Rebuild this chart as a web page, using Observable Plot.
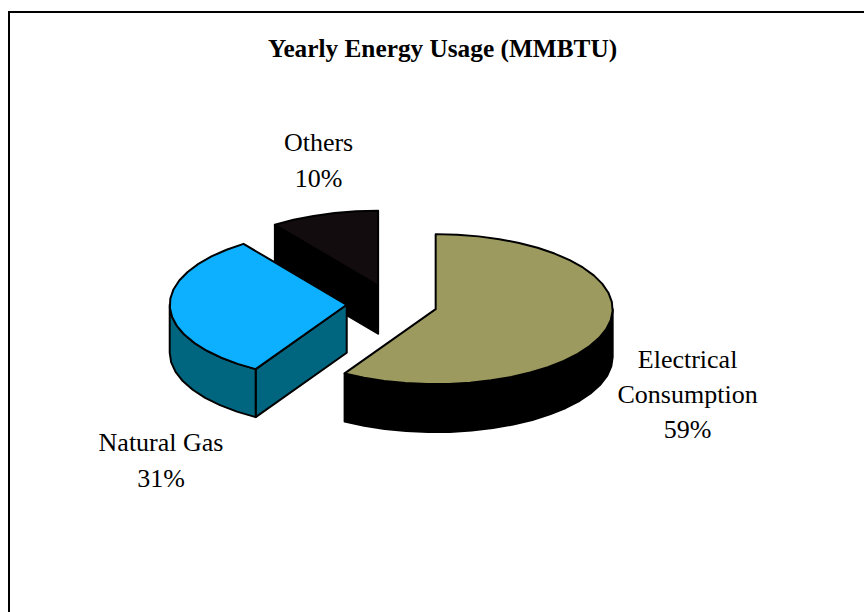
<!DOCTYPE html>
<html>
<head>
<meta charset="utf-8">
<script src="https://cdn.jsdelivr.net/npm/d3@7"></script>
<script src="https://cdn.jsdelivr.net/npm/@observablehq/plot@0.6"></script>
<style>
  html, body { margin: 0; padding: 0; background: #fff; overflow: hidden; }
  #chart { position: relative; width: 864px; height: 612px; }
  #chart svg { position: absolute; left: 0; top: 0; }
  #frame { position: absolute; left: 8px; top: 11px; right: 0; bottom: 0;
           border-left: 2px solid #000; border-top: 2px solid #000; }
</style>
</head>
<body>
<div id="chart"><div id="frame"></div></div>
<script>
const titleText = "Yearly Energy Usage (MMBTU)";
const categories = ["Electrical\nConsumption", "Natural Gas", "Others"];
const shares = [58.6, 31.49, 9.91];
const topColors = ["#9C9A5E", "#0DB0FF", "#120C0E"];
const sideColors = ["#000000", "#006680", "#000000"];

// 3-D pie model, in pie units (1 = the radius along each axis)
const explode = 0.256, depth = 0.64, arcStep = 7;
const rad = d => d * Math.PI / 180;
const total = d3.sum(shares);
const rows = [];
let id = 0, start = 0;
const drawOrder = [];
shares.forEach((v, i) => {
  const a0 = start, a1 = start + v / total * 360; start = a1;
  const mid = rad((a0 + a1) / 2);
  drawOrder.push({i, a0, a1, cx: explode * Math.sin(mid), cy: explode * Math.cos(mid)});
});
function arcPts(s, from, to) {
  const n = Math.max(1, Math.round((to - from) / arcStep));
  return d3.range(n + 1).map(k => {
    const a = rad(from + (to - from) * k / n);
    return [s.cx + Math.sin(a), s.cy + Math.cos(a)];
  });
}
function poly(pts, color) {
  id++;
  pts.forEach(([x, y]) => rows.push({id, x, y, color}));
}
// far slices first, then nearer ones
[2, 1, 0].forEach(j => {
  const s = drawOrder[j], side = sideColors[s.i];
  const p = a => [s.cx + Math.sin(rad(a)), s.cy + Math.cos(rad(a))];
  if (Math.sin(rad(s.a0)) < -1e-6) {
    const e = p(s.a0);
    poly([[s.cx, s.cy], e, [e[0], e[1] - depth], [s.cx, s.cy - depth]], side);
  }
  const from = Math.max(s.a0, 90), to = Math.min(s.a1, 270);
  if (to > from) {
    const arc = arcPts(s, from, to);
    poly(arc.concat(arc.slice().reverse().map(([x, y]) => [x, y - depth])), side);
  }
  poly([[s.cx, s.cy]].concat(arcPts(s, s.a0, s.a1)), topColors[s.i]);
});

// label texts
const labels = categories.map((c, i) => c + "\n" + Math.round(shares[i]) + "%");
const labelX = [1.67, -1.305, -0.415];
const labelY = [-1.17, -2.05, 1.95];
const labelRows = labels.map((text, i) => ({text, x: labelX[i], y: labelY[i]}));

const cxPx = 391.5, cyPx = 303.5, rxPx = 177, ryPx = 75;
const plot = Plot.plot({
  width: 864, height: 612,
  margin: 0,
  style: {background: "transparent", fontFamily: "'Liberation Serif', serif"},
  x: {axis: null, domain: [-cxPx / rxPx, (864 - cxPx) / rxPx], range: [0, 864]},
  y: {axis: null, domain: [cyPx / ryPx, (cyPx - 612) / ryPx], range: [0, 612]},
  marks: [
    Plot.line(rows, {x: "x", y: "y", z: "id", fill: "color", stroke: "#000", strokeWidth: 2,
      strokeLinejoin: "round", curve: "linear-closed"}),
    Plot.text(labelRows, {x: "x", y: "y", text: "text", fontSize: 26, lineHeight: 1.35,
      fill: "#000", textAnchor: "middle"}),
    Plot.text([titleText], {frameAnchor: "top", dy: 39, dx: 10, fontSize: 25.3, fontWeight: "bold", fill: "#000"})
  ]
});
document.getElementById("chart").appendChild(plot);
</script>
</body>
</html>
